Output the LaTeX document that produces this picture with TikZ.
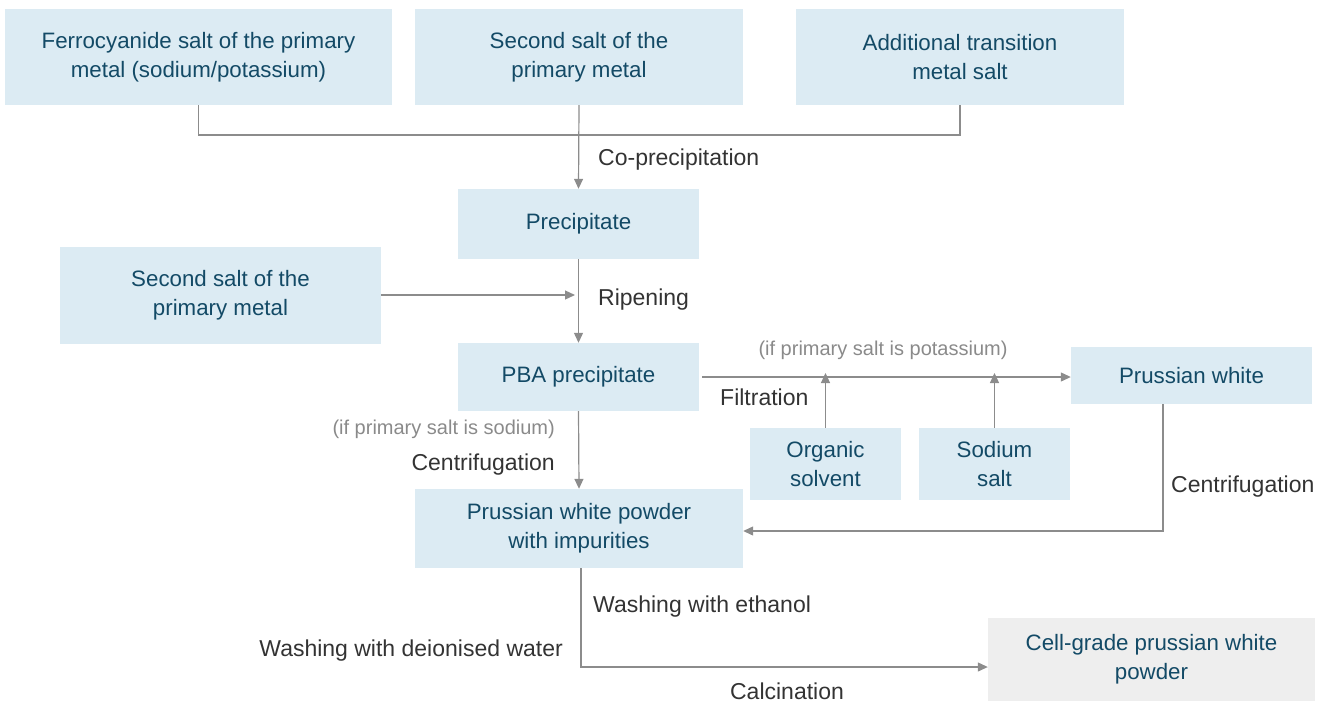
\documentclass[tikz,border=0pt]{standalone}
\usepackage{fontspec}
\setmainfont{Liberation Sans}
\usetikzlibrary{arrows.meta}
\definecolor{boxblue}{HTML}{DCEBF3}
\definecolor{boxgray}{HTML}{EEEEEE}
\definecolor{boxtext}{HTML}{134A66}
\definecolor{labeltext}{HTML}{333333}
\definecolor{notetext}{HTML}{8A8A8A}
\definecolor{linegray}{HTML}{8C8C8C}
\tikzset{
  procbox/.style={fill=boxblue, draw=none, inner sep=0pt, align=center, text=boxtext,
    font=\fontsize{22.3}{29}\selectfont},
  finalbox/.style={procbox, fill=boxgray},
  steplabel/.style={text=labeltext, inner sep=0pt, font=\fontsize{23}{26}\selectfont},
  notelabel/.style={text=notetext, inner sep=0pt, font=\fontsize{20}{22}\selectfont},
  conn/.style={draw=linegray, line width=1.2pt},
  arr/.style={conn, -{Triangle[length=10pt,width=9pt]}},
}
\begin{document}
\begin{tikzpicture}[x=1pt,y=-1pt]
\useasboundingbox (0,0) rectangle (1328,702);
% boxes
\node[procbox, minimum width=387pt, minimum height=96pt] (ferro) at (198.5,57) {Ferrocyanide salt of the primary\\metal (sodium/potassium)};
\node[procbox, minimum width=328pt, minimum height=96pt] (second) at (579,57) {Second salt of the\\primary metal};
\node[procbox, minimum width=328pt, minimum height=96pt] (addl) at (960,57) {Additional transition\\metal salt};
\node[procbox, minimum width=241pt, minimum height=70pt] (precip) at (578.5,224) {Precipitate};
\node[procbox, minimum width=321pt, minimum height=97pt] (secondb) at (220.5,295.5) {Second salt of the\\primary metal};
\node[procbox, minimum width=241pt, minimum height=68pt] (pba) at (578.5,377) {PBA precipitate};
\node[procbox, minimum width=241pt, minimum height=57pt] (pw) at (1191.5,375.5) {Prussian white};
\node[procbox, minimum width=151pt, minimum height=72pt] (org) at (825.5,464) {Organic\\solvent};
\node[procbox, minimum width=151pt, minimum height=72pt] (sod) at (994.5,464) {Sodium\\salt};
\node[procbox, minimum width=328pt, minimum height=79pt] (pwp) at (579,528.5) {Prussian white powder\\with impurities};
\node[finalbox, minimum width=327pt, minimum height=83pt] (cell) at (1151.5,659.5) {Cell-grade prussian white\\powder};
% junction coordinates
\coordinate (j1) at (ferro.south |- 0,135);
\coordinate (j3) at (addl.south |- 0,135);
\coordinate (rip) at (579,295);
\coordinate (f1) at (825.5,377);
\coordinate (f2) at (994.5,377);
\coordinate (pwturn) at (1163,531);
\coordinate (wturn) at (581,667);
% connectors
\draw[conn] (ferro.south) -- (j1) -- (j3) -- (addl.south);
\draw[arr] (second.south) -- (precip.north);
\draw[arr] (precip.south) -- (pba.north);
\draw[arr] (secondb.east |- rip) -- ([xshift=-4pt]rip);
\draw[arr] ([xshift=3pt]pba.east) -- (pw.west |- pba.east);
\draw[arr] (org.north) -- ([yshift=4pt]f1);
\draw[arr] (sod.north) -- ([yshift=4pt]f2);
\draw[arr] (pba.south) -- (pwp.north);
\draw[arr] (pw.south -| pwturn) -- (pwturn) -- (pwp.east |- pwturn);
\draw[arr] (pwp.south -| wturn) -- (wturn) -- (cell.west |- wturn);
% labels
\node[steplabel, anchor=west] (lcop) at (598,160) {Co-precipitation};
\node[steplabel, anchor=west] (lrip) at (598,300) {Ripening};
\node[notelabel] (lpot) at (883,350.5) {(if primary salt is potassium)};
\node[steplabel, anchor=west] (lfil) at (720,397.5) {Filtration};
\node[notelabel, anchor=east] (lsodn) at (555,429.5) {(if primary salt is sodium)};
\node[steplabel, anchor=east] (lcen1) at (555,465) {Centrifugation};
\node[steplabel, anchor=west] (lcen2) at (1171,487) {Centrifugation};
\node[steplabel, anchor=west] (leth) at (593,607) {Washing with ethanol};
\node[steplabel, anchor=east] (lwat) at (563,651) {Washing with deionised water};
\node[steplabel] (lcal) at (787,691.5) {Calcination};
\end{tikzpicture}
\end{document}
